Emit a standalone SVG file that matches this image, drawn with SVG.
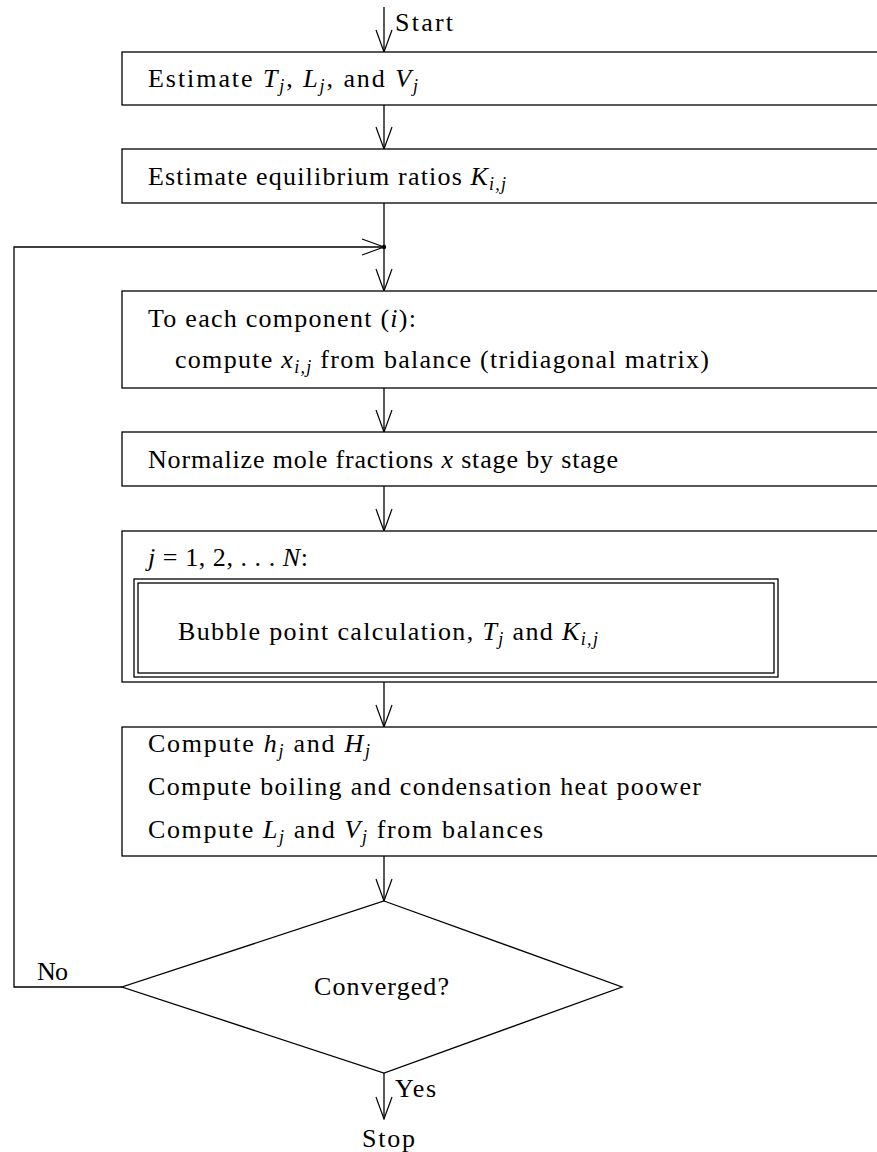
<svg xmlns="http://www.w3.org/2000/svg" width="877" height="1152" viewBox="0 0 877 1152">
<defs>
<marker id="arr" viewBox="0 0 24 18" refX="23" refY="9" markerWidth="24" markerHeight="18" markerUnits="userSpaceOnUse" orient="auto">
<path d="M1,1 L23,9 L1,17" fill="none" stroke="#000" stroke-width="1.2"/>
</marker>
<style>
.box{fill:#fff;stroke:#000;stroke-width:1.3}
.ln{fill:none;stroke:#000;stroke-width:1.3}
text{font-family:"Liberation Serif","DejaVu Serif",serif;font-size:26px;fill:#000}
.m{font-style:italic}
.s{font-size:18px;font-style:italic}
</style>
</defs>
<rect width="877" height="1152" fill="#fff"/>
<g id="connectors">
<line class="ln" x1="384" y1="7" x2="384" y2="52" marker-end="url(#arr)"/>
<line class="ln" x1="384" y1="105" x2="384" y2="149" marker-end="url(#arr)"/>
<line class="ln" x1="384" y1="203" x2="384" y2="247"/>
<line class="ln" x1="384" y1="247" x2="384" y2="291" marker-end="url(#arr)"/>
<line class="ln" x1="384" y1="388" x2="384" y2="432" marker-end="url(#arr)"/>
<line class="ln" x1="384" y1="486" x2="384" y2="531" marker-end="url(#arr)"/>
<line class="ln" x1="384" y1="682" x2="384" y2="727" marker-end="url(#arr)"/>
<line class="ln" x1="384" y1="856" x2="384" y2="901" marker-end="url(#arr)"/>
<line class="ln" x1="384" y1="1073" x2="384" y2="1119" marker-end="url(#arr)"/>
<polyline class="ln" points="122,987 14,987 14,247 384,247" marker-end="url(#arr)"/>
<circle cx="384" cy="247" r="2.2" fill="#000"/>
<text x="395" y="31" textLength="58">Start</text>
<text x="37" y="980" textLength="31">No</text>
<text x="395" y="1097" textLength="41">Yes</text>
<text x="362" y="1147" textLength="53">Stop</text>
</g>
<g id="n1">
<rect class="box" x="122" y="52" width="770" height="53"/>
<text x="148" y="87" textLength="270">Estimate <tspan class="m">T</tspan><tspan class="s" dy="5">j</tspan><tspan dy="-5">, </tspan><tspan class="m">L</tspan><tspan class="s" dy="5">j</tspan><tspan dy="-5">, and </tspan><tspan class="m">V</tspan><tspan class="s" dy="5">j</tspan></text>
</g>
<g id="n2">
<rect class="box" x="122" y="149" width="770" height="54"/>
<text x="148" y="185" textLength="358">Estimate equilibrium ratios <tspan class="m">K</tspan><tspan class="s" dy="5">i,j</tspan></text>
</g>
<g id="n3">
<rect class="box" x="122" y="291" width="770" height="97"/>
<text x="148" y="327" textLength="268">To each component (<tspan class="m">i</tspan>):</text>
<text x="175" y="368" textLength="534">compute <tspan class="m">x</tspan><tspan class="s" dy="5">i,j</tspan><tspan dy="-5"> from balance (tridiagonal matrix)</tspan></text>
</g>
<g id="n4">
<rect class="box" x="122" y="432" width="770" height="54"/>
<text x="148" y="468" textLength="470">Normalize mole fractions <tspan class="m">x</tspan> stage by stage</text>
</g>
<g id="n5">
<rect class="box" x="122" y="531" width="770" height="151"/>
<text x="148" y="566" textLength="160"><tspan class="m">j</tspan> = 1, 2, . . . <tspan class="m">N</tspan>:</text>
<rect class="box" x="134" y="579" width="644" height="98"/>
<rect class="box" x="138" y="583" width="636" height="90"/>
<text x="178" y="640" textLength="420">Bubble point calculation, <tspan class="m">T</tspan><tspan class="s" dy="5">j</tspan><tspan dy="-5"> and </tspan><tspan class="m">K</tspan><tspan class="s" dy="5">i,j</tspan></text>
</g>
<g id="n6">
<rect class="box" x="122" y="727" width="770" height="129"/>
<text x="148" y="752" textLength="222">Compute <tspan class="m">h</tspan><tspan class="s" dy="5">j</tspan><tspan dy="-5"> and </tspan><tspan class="m">H</tspan><tspan class="s" dy="5">j</tspan></text>
<text x="148" y="795" textLength="553">Compute boiling and condensation heat poower</text>
<text x="148" y="838" textLength="395">Compute <tspan class="m">L</tspan><tspan class="s" dy="5">j</tspan><tspan dy="-5"> and </tspan><tspan class="m">V</tspan><tspan class="s" dy="5">j</tspan><tspan dy="-5"> from balances</tspan></text>
</g>
<g id="n7">
<polygon class="box" points="384,901 622,987 384,1073 122,987"/>
<text x="314" y="995" textLength="135">Converged?</text>
</g>
</svg>
